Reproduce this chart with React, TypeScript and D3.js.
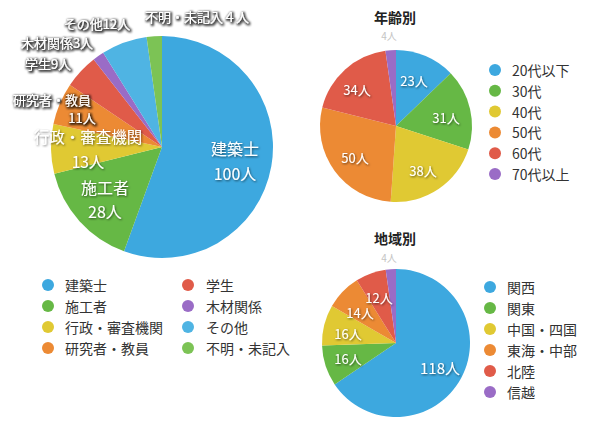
import React from "react";
import * as d3 from "d3";

const occCategories = ["建築士", "施工者", "行政・審査機関", "研究者・教員", "学生", "木材関係", "その他", "不明・未記入"];
const occValues = [100, 28, 13, 11, 9, 3, 12, 4];
const occColors = ["#3da8df", "#66b845", "#e0c933", "#ec8a34", "#e05b49", "#9a6cc6", "#4fb4e3", "#7cc355"];

const ageCategories = ["20代以下", "30代", "40代", "50代", "60代", "70代以上"];
const ageValues = [23, 31, 38, 50, 34, 4];
const sixColors = ["#3da8df", "#66b845", "#e0c933", "#ec8a34", "#e05b49", "#9a6cc6"];

const regionCategories = ["関西", "関東", "中国・四国", "東海・中部", "北陸", "信越"];
const regionValues = [118, 16, 16, 14, 12, 4];

const FONT = "'Noto Sans CJK JP', 'Noto Sans', sans-serif";

type Lbl = { lines: string[]; x: number; y: number; size: number; gap?: number; dx?: number[]; kind?: "in" | "out" | "gray" };

function Pie({ cx, cy, r, values, colors, labels }: { cx: number; cy: number; r: number; values: number[]; colors: string[]; labels: Lbl[] }) {
  const arcs = d3.pie<number>().sort(null).value((d) => d)(values);
  const arc = d3.arc<d3.PieArcDatum<number>>().innerRadius(0).outerRadius(r);
  return (
    <g>
      <g transform={`translate(${cx},${cy})`}>
        {arcs.map((a, i) => (
          <path key={i} d={arc(a) || ""} fill={colors[i]} />
        ))}
      </g>
      {labels.map((l, i) =>
        l.lines.map((t, j) => {
          const kind = l.kind || "in";
          return (
            <text
              key={`${i}-${j}`}
              x={l.x + (l.dx ? l.dx[j] : 0)}
              y={l.y + j * (l.gap || l.size * 1.55)}
              fontSize={l.size}
              textAnchor="middle"
              dominantBaseline="central"
              fontFamily={FONT}
              fill={kind === "gray" ? "#c4c4c4" : "#ffffff"}
              stroke={kind === "gray" ? "#ffffff" : "none"}
              strokeWidth={kind === "gray" ? 2 : 0}
              paintOrder="stroke"
              filter={kind === "gray" ? undefined : kind === "out" ? "url(#shadowOut)" : "url(#shadow)"}
            >
              {t}
            </text>
          );
        })
      )}
    </g>
  );
}

function Legend({ x, y, dy, items, colors, size, tx }: { x: number; y: number; dy: number; items: string[]; colors: string[]; size: number; tx: number }) {
  return (
    <g>
      {items.map((t, i) => (
        <g key={i}>
          <circle cx={x} cy={y + i * dy} r={6} fill={colors[i]} />
          <text x={x + tx} y={y + i * dy} fontSize={size} dominantBaseline="central" fontFamily={FONT} fill="#333">
            {t}
          </text>
        </g>
      ))}
    </g>
  );
}

export default function App() {
  const occLabels: Lbl[] = [
    { lines: [occCategories[0], `${occValues[0]}人`], x: 235, y: 148, size: 16, gap: 25 },
    { lines: [occCategories[1], `${occValues[1]}人`], x: 105, y: 187, size: 16, gap: 24 },
    { lines: [occCategories[2], `${occValues[2]}人`], x: 88, y: 136, size: 15.5, gap: 25 },
    { lines: [occCategories[3], `${occValues[3]}人`], x: 52, y: 99, size: 13, gap: 18, dx: [0, 30], kind: "out" },
    { lines: [`${occCategories[4]}${occValues[4]}人`], x: 48, y: 63, size: 13, kind: "out" },
    { lines: [`${occCategories[5]}${occValues[5]}人`], x: 57, y: 42, size: 13, kind: "out" },
    { lines: [`${occCategories[6]}${occValues[6]}人`], x: 97, y: 23, size: 13, kind: "out" },
    { lines: [`不明・未記入４人`], x: 197, y: 16, size: 13, kind: "out" },
  ];
  const ageLabels: Lbl[] = [
    { lines: [`${ageValues[0]}人`], x: 414, y: 80, size: 13 },
    { lines: [`${ageValues[1]}人`], x: 446, y: 117, size: 13 },
    { lines: [`${ageValues[2]}人`], x: 423, y: 170, size: 13 },
    { lines: [`${ageValues[3]}人`], x: 355, y: 157, size: 13 },
    { lines: [`${ageValues[4]}人`], x: 357, y: 89, size: 13 },
    { lines: [`${ageValues[5]}人`], x: 389, y: 35, size: 10, kind: "gray" },
  ];
  const regLabels: Lbl[] = [
    { lines: [`${regionValues[0]}人`], x: 440, y: 367, size: 15 },
    { lines: [`${regionValues[1]}人`], x: 348, y: 358, size: 13 },
    { lines: [`${regionValues[2]}人`], x: 348, y: 333, size: 13 },
    { lines: [`${regionValues[3]}人`], x: 360, y: 312, size: 13 },
    { lines: [`${regionValues[4]}人`], x: 379, y: 297, size: 13 },
    { lines: [`${regionValues[5]}人`], x: 389, y: 257, size: 10, kind: "gray" },
  ];
  return (
    <svg width={590} height={430} style={{ position: "absolute", left: 0, top: 0, background: "#fff" }}>
      <defs>
        <filter id="shadow" x="-20%" y="-30%" width="140%" height="160%">
          <feDropShadow dx="0.8" dy="1" stdDeviation="1" floodColor="#000" floodOpacity="0.6" />
        </filter>
        <filter id="shadowOut" x="-20%" y="-40%" width="140%" height="180%">
          <feMorphology in="SourceAlpha" operator="dilate" radius="0.6" result="d" />
          <feGaussianBlur in="d" stdDeviation="1.2" result="b" />
          <feOffset in="b" dx="0.6" dy="0.8" result="o" />
          <feComponentTransfer in="o" result="s">
            <feFuncA type="linear" slope="0.75" />
          </feComponentTransfer>
          <feMerge>
            <feMergeNode in="s" />
            <feMergeNode in="SourceGraphic" />
          </feMerge>
        </filter>
      </defs>
      <rect width={590} height={430} fill="#fff" />
      <Pie cx={162} cy={147} r={111} values={occValues} colors={occColors} labels={occLabels} />
      <Legend x={48} y={285} dy={21} items={occCategories.slice(0, 4)} colors={occColors.slice(0, 4)} size={14} tx={17} />
      <Legend x={188} y={285} dy={21} items={occCategories.slice(4)} colors={occColors.slice(4)} size={14} tx={18} />

      <text x={395} y={17} fontSize={14} fontWeight="bold" textAnchor="middle" dominantBaseline="central" fontFamily={FONT} fill="#222">年齢別</text>
      <Pie cx={396} cy={126} r={76} values={ageValues} colors={sixColors} labels={ageLabels} />
      <Legend x={495} y={70} dy={20.8} items={ageCategories} colors={sixColors} size={14} tx={17} />

      <text x={395} y={238} fontSize={14} fontWeight="bold" textAnchor="middle" dominantBaseline="central" fontFamily={FONT} fill="#222">地域別</text>
      <Pie cx={396} cy={343} r={74} values={regionValues} colors={sixColors} labels={regLabels} />
      <Legend x={490} y={287} dy={21} items={regionCategories} colors={sixColors} size={14} tx={17} />
    </svg>
  );
}
